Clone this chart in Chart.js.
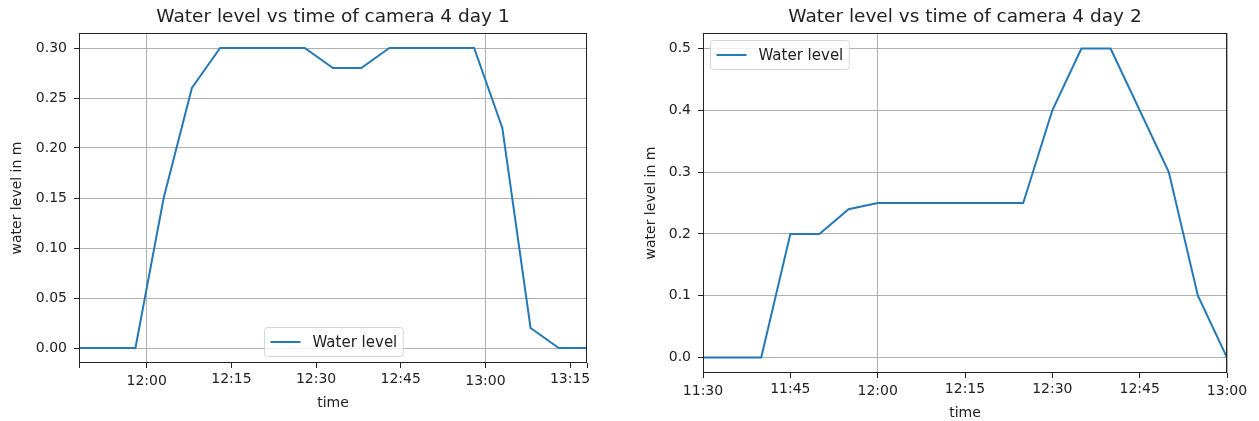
<!DOCTYPE html>
<html>
<head>
<meta charset="utf-8">
<title>Water level camera 4</title>
<script src="https://cdn.jsdelivr.net/npm/chart.js@4.4.0/dist/chart.umd.min.js"></script>
<style>
  html, body { margin: 0; padding: 0; background: #fff; overflow: hidden; }
  #wrap { position: relative; width: 1259px; height: 421px; }
  canvas { position: absolute; top: 0; }
  #chart1 { left: 0; }
  #chart2 { left: 630px; }
</style>
</head>
<body>
<div id="wrap">
  <canvas id="chart1" width="630" height="421"></canvas>
  <canvas id="chart2" width="629" height="421"></canvas>
</div>
<script>
// Day 1 readings
const day1Times = ['11:48', '11:53', '11:58', '12:03', '12:08', '12:13', '12:18', '12:23', '12:28', '12:33',
                   '12:38', '12:43', '12:48', '12:53', '12:58', '13:03', '13:08', '13:13', '13:18'];
const day1Levels = [0, 0, 0, 0.15, 0.26, 0.30, 0.30, 0.30, 0.30, 0.28,
                    0.28, 0.30, 0.30, 0.30, 0.30, 0.22, 0.02, 0, 0];
const day1XTicks = ['12:00', '12:15', '12:30', '12:45', '13:00', '13:15'];
const day1MajorTicks = ['12:00', '13:00'];
const day1YTicks = [0, 0.05, 0.10, 0.15, 0.20, 0.25, 0.30];

// Day 2 readings
const day2Times = ['11:30', '11:35', '11:40', '11:45', '11:50', '11:55', '12:00', '12:05', '12:10', '12:15',
                   '12:20', '12:25', '12:30', '12:35', '12:40', '12:45', '12:50', '12:55', '13:00'];
const day2Levels = [0, 0, 0, 0.2, 0.2, 0.24, 0.25, 0.25, 0.25, 0.25,
                    0.25, 0.25, 0.4, 0.5, 0.5, 0.4, 0.3, 0.1, 0];
const day2XTicks = ['11:30', '11:45', '12:00', '12:15', '12:30', '12:45', '13:00'];
const day2MajorTicks = ['11:30', '12:00', '13:00'];
const day2YTicks = [0, 0.1, 0.2, 0.3, 0.4, 0.5];

const seriesName = 'Water level';
const FONT = "'DejaVu Sans', sans-serif";
const TEXT = '#222';
const LINE = '#2479b6';

function toMin(t) {
    const [h, m] = t.split(':').map(Number);
    return h * 60 + m;
}

// black box round the plot area, like matplotlib spines
const frame = {
    id: 'frame',
    afterDraw(chart) {
        const { ctx, chartArea: a } = chart;
        ctx.save();
        ctx.strokeStyle = TEXT;
        ctx.lineWidth = 1;
        const l = Math.round(a.left) + 0.5, t = Math.round(a.top) + 0.5;
        const r = Math.round(a.right) - 0.5, b = Math.round(a.bottom) - 0.5;
        ctx.strokeRect(l, t, r - l, b - t);
        ctx.restore();
    }
};

// legend drawn inside the axes
const legendBox = {
    id: 'legendBox',
    afterDraw(chart, args, opts) {
        const { ctx, chartArea: a } = chart;
        const fs = 15;
        ctx.save();
        ctx.font = fs + 'px ' + FONT;
        const tw = ctx.measureText(opts.text).width;
        const pad = 0.4 * fs, handle = 2 * fs, gap = 0.8 * fs, axPad = 7;
        const w = pad * 2 + handle + gap + tw;
        const h = 29;
        let x, y;
        if (opts.loc === 'lower center') {
            x = (a.left + a.right) / 2 - w / 2;
            y = a.bottom - axPad - h;
        } else {
            x = a.left + axPad;
            y = a.top + axPad;
        }
        x = Math.round(x) + 0.5; y = Math.round(y) + 0.5;
        ctx.beginPath();
        ctx.roundRect(x, y, w, h, 3);
        ctx.fillStyle = 'rgba(255,255,255,0.8)';
        ctx.fill();
        ctx.strokeStyle = 'rgba(204,204,204,0.8)';
        ctx.lineWidth = 1;
        ctx.stroke();
        ctx.beginPath();
        ctx.moveTo(x + pad, y + h / 2);
        ctx.lineTo(x + pad + handle, y + h / 2);
        ctx.strokeStyle = LINE;
        ctx.lineWidth = 2;
        ctx.stroke();
        ctx.fillStyle = TEXT;
        ctx.textBaseline = 'middle';
        ctx.fillText(opts.text, x + pad + handle + gap, y + h / 2 + 1);
        ctx.restore();
    }
};

function makeChart(id, cfg) {
    const xMin = toMin(cfg.times[0]);
    const xMax = toMin(cfg.times[cfg.times.length - 1]);
    const lo = Math.min(...cfg.levels), hi = Math.max(...cfg.levels);
    const yMin = lo - 0.05 * (hi - lo), yMax = hi + 0.05 * (hi - lo);

    const xTicks = cfg.xTicks.map(t => ({ value: toMin(t), text: t, major: cfg.majors.includes(t) }));
    if (!cfg.xTicks.includes(cfg.times[0])) xTicks.unshift({ value: xMin, text: '', major: false });
    if (!cfg.xTicks.includes(cfg.times[cfg.times.length - 1])) xTicks.push({ value: xMax, text: '', major: false });

    return new Chart(document.getElementById(id), {
        type: 'line',
        data: {
            datasets: [{
                label: seriesName,
                data: cfg.times.map((t, i) => ({ x: toMin(t), y: cfg.levels[i] })),
                borderColor: LINE,
                borderWidth: 2,
                pointRadius: 0,
                tension: 0,
                fill: false
            }]
        },
        options: {
            responsive: false,
            animation: false,
            layout: { padding: cfg.padding },
            plugins: {
                legend: { display: false },
                tooltip: { enabled: false },
                title: {
                    display: true,
                    text: cfg.title,
                    fullSize: false,
                    color: TEXT,
                    font: { family: FONT, size: 18.5, weight: 'normal', lineHeight: 1.2 },
                    padding: { top: 5.9, bottom: 4.9 }
                },
                legendBox: { text: seriesName, loc: cfg.legendLoc }
            },
            scales: {
                x: {
                    type: 'linear',
                    min: xMin,
                    max: xMax,
                    afterBuildTicks: s => { s.ticks = xTicks.map(t => ({ ...t })); },
                    afterFit: s => { s.height = 48; },
                    border: { display: false },
                    grid: {
                        color: c => (c.tick && c.tick.major) ? '#b0b0b0' : 'rgba(0,0,0,0)',
                        tickColor: TEXT,
                        tickLength: 5,
                        lineWidth: 1
                    },
                    ticks: {
                        autoSkip: false,
                        maxRotation: 0,
                        color: TEXT,
                        padding: 2.6,
                        font: c => ({ family: FONT, size: 14, lineHeight: (c.tick && c.tick.major) ? 1.6 : 1.2 }),
                        callback: (v, i, ticks) => ticks[i].text
                    },
                    title: {
                        display: true,
                        text: 'time',
                        color: TEXT,
                        font: { family: FONT, size: 14, lineHeight: 1.0 },
                        padding: { top: 0, bottom: 1 }
                    }
                },
                y: {
                    type: 'linear',
                    min: yMin,
                    max: yMax,
                    afterBuildTicks: s => { s.ticks = cfg.yTicks.map(v => ({ value: v })); },
                    afterFit: s => { s.width = cfg.yAxisW; },
                    border: { display: false },
                    grid: { color: '#b0b0b0', tickColor: TEXT, tickLength: 5, lineWidth: 1 },
                    ticks: {
                        color: TEXT,
                        padding: 7,
                        font: { family: FONT, size: 14 },
                        callback: v => v.toFixed(cfg.yDigits)
                    },
                    title: {
                        display: true,
                        text: 'water level in m',
                        color: TEXT,
                        font: { family: FONT, size: 14, lineHeight: 1.2 },
                        padding: { top: cfg.yTitlePad, bottom: 0 }
                    }
                }
            }
        },
        plugins: [frame, legendBox]
    });
}

makeChart('chart1', {
    title: 'Water level vs time of camera 4 day 1',
    times: day1Times, levels: day1Levels,
    xTicks: day1XTicks, majors: day1MajorTicks, yTicks: day1YTicks,
    yDigits: 2, yAxisW: 79, yTitlePad: 8.6,
    padding: { left: 0, right: 43, top: 0, bottom: 10 },
    legendLoc: 'lower center'
});

makeChart('chart2', {
    title: 'Water level vs time of camera 4 day 2',
    times: day2Times, levels: day2Levels,
    xTicks: day2XTicks, majors: day2MajorTicks, yTicks: day2YTicks,
    yDigits: 1, yAxisW: 73, yTitlePad: 12.6,
    padding: { left: 0, right: 32, top: 0, bottom: 0 },
    legendLoc: 'upper left'
});
</script>
</body>
</html>
